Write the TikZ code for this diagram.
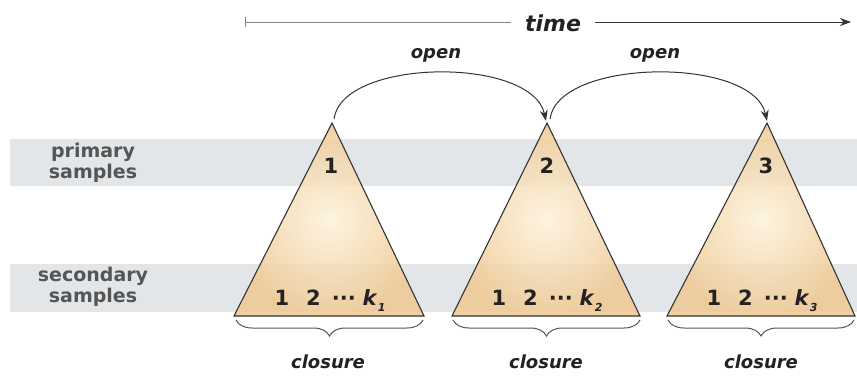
\documentclass[tikz,border=0pt]{standalone}
\usepackage{fontspec}
\setmainfont{DejaVu Sans}
\usetikzlibrary{arrows.meta,decorations.pathreplacing}
\definecolor{bandc}{HTML}{E3E6E8}
\definecolor{tric}{HTML}{EFCA95}
\definecolor{trilight}{HTML}{FDF2DC}
\definecolor{txtc}{HTML}{222222}
\definecolor{sidec}{HTML}{555555}
\definecolor{linec}{HTML}{333333}
\newcommand{\sampk}[1]{1\hspace{17pt}2\hspace{11pt}·\hspace{0pt}·\hspace{0pt}·\hspace{7pt}\textit{k}\raisebox{-0.3em}{\fontsize{11}{11}\selectfont\textit{#1}}}
\tikzset{
  tristyle/.style={draw=linec, line width=1.1pt, shading=radial, inner color=trilight, outer color=tric, fill opacity=0.88},
  numlabel/.style={text=txtc, font=\fontsize{21}{24}\selectfont\bfseries, inner sep=0pt, anchor=base},
  sidelabel/.style={text=sidec, font=\fontsize{19}{21}\selectfont\bfseries, align=center, inner sep=0pt},
  itlabel/.style={text=txtc, font=\fontsize{18}{20}\selectfont\bfseries\itshape, inner sep=0pt},
  arcstyle/.style={draw=linec, line width=1pt, -{Stealth[length=11pt,width=8pt]}},
  bracestyle/.style={draw=sidec, line width=1pt, decorate, decoration={brace,mirror,amplitude=16pt}},
}
\begin{document}
\begin{tikzpicture}[x=1pt,y=-1pt]
\useasboundingbox (0,0) rectangle (857,378);
% bands
\fill[bandc] (10,139) rectangle (857,186);
\fill[bandc] (10,264) rectangle (857,312);
% side labels
\node[sidelabel] (prim) at (93,163) {primary\\samples};
\node[sidelabel] (sec) at (93,287) {secondary\\samples};
% triangles
\path[tristyle] (234,316) -- (332,123) -- (424,316) -- cycle;
\path[tristyle] (452,316) -- (547,123) -- (640,316) -- cycle;
\path[tristyle] (667,316) -- (767,123) -- (855,316) -- cycle;
% apex coordinates
\coordinate (a1) at (334,119);
\coordinate (a2) at (546,121);
\coordinate (a2s) at (550,119);
\coordinate (a3) at (767,121);
% numbers
\node[numlabel] (p1) at (331,173) {1};
\node[numlabel] (p2) at (547,173) {2};
\node[numlabel] (p3) at (766,173) {3};
\node[numlabel] (s1) at (330,305) {\sampk{1}};
\node[numlabel] (s2) at (547,305) {\sampk{2}};
\node[numlabel] (s3) at (762,305) {\sampk{3}};
% time arrow
\node[text=txtc, font=\fontsize{22}{24}\selectfont\bfseries\itshape, inner xsep=14pt, inner ysep=0pt] (time) at (553,23) {time};
\coordinate (t0) at (245,22);
\coordinate (t1) at (851,22);
\draw[draw=gray, line width=1pt, {Bar[width=10pt]}-] (t0) -- (t0 -| time.west);
\draw[draw=linec, line width=1pt, -{Stealth[length=11pt,width=8pt]}] (t1 -| time.east) -- (t1);
% open arcs
\draw[arcstyle] (a1) .. controls (342,58) and (532,56) .. (a2);
\draw[arcstyle] (a2s) .. controls (558,58) and (753,56) .. (a3);
\node[itlabel] (o1) at (436,55) {open};
\node[itlabel] (o2) at (655,55) {open};
% braces
\coordinate (b1l) at (236,320); \coordinate (b1r) at (423,320);
\coordinate (b2l) at (453,320); \coordinate (b2r) at (640,320);
\coordinate (b3l) at (668,320); \coordinate (b3r) at (854,320);
\draw[bracestyle] (b1l) -- (b1r);
\draw[bracestyle] (b2l) -- (b2r);
\draw[bracestyle] (b3l) -- (b3r);
\node[itlabel] (c1) at (328,362) {closure};
\node[itlabel] (c2) at (546,362) {closure};
\node[itlabel] (c3) at (761,362) {closure};
\end{tikzpicture}
\end{document}
